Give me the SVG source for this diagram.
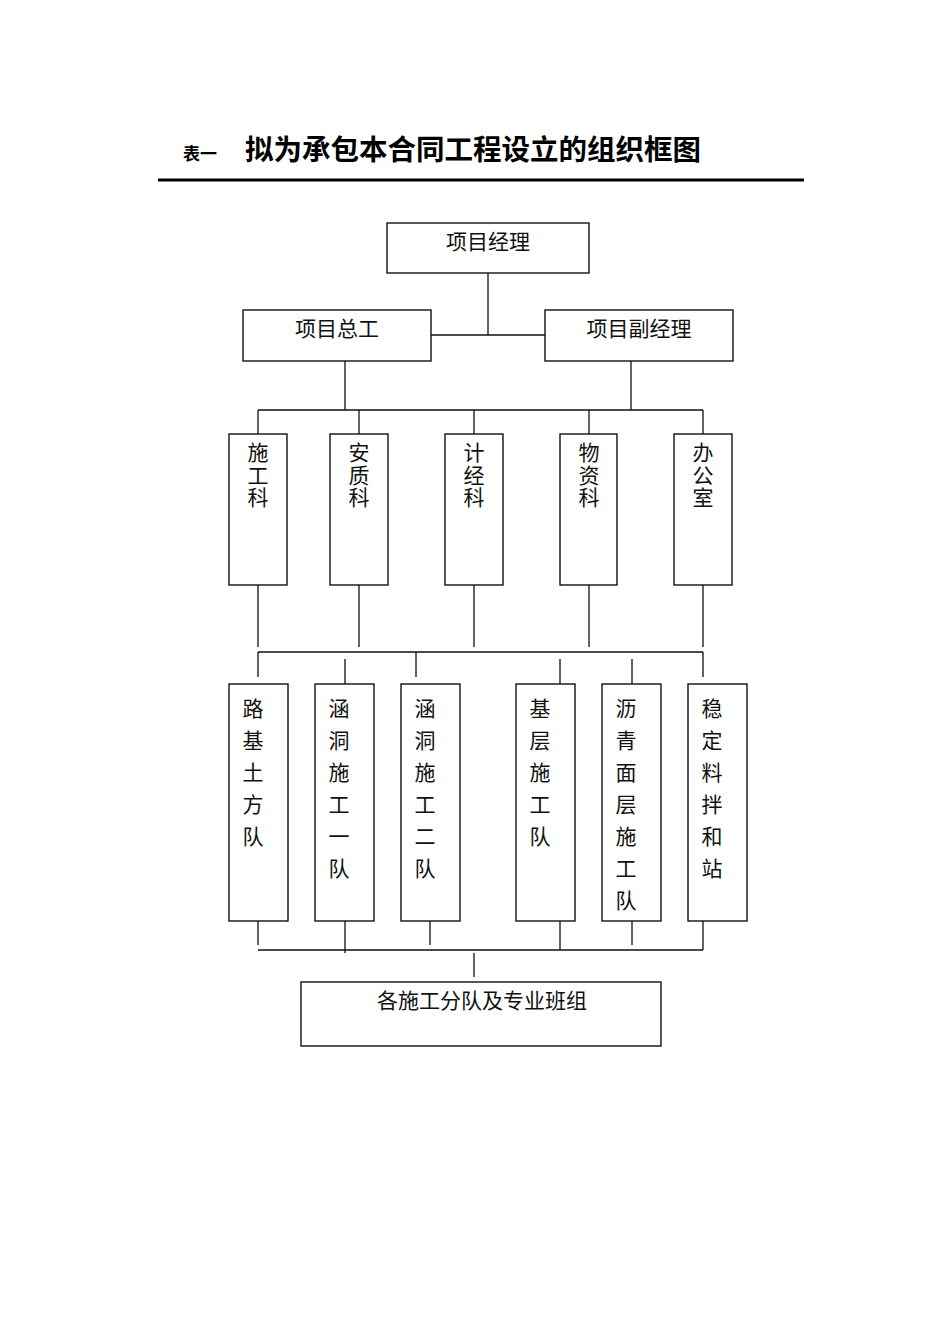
<svg xmlns="http://www.w3.org/2000/svg" width="950" height="1344" viewBox="0 0 950 1344">
<style>
.box{fill:#fff;stroke:#111;stroke-width:1.4}
.ln{stroke:#111;stroke-width:1.3;fill:none}
.t{font-family:"Noto Sans CJK SC","Noto Sans",sans-serif;font-size:21px;fill:#111;text-anchor:middle}
.v{font-family:"Noto Sans CJK SC","Noto Sans",sans-serif;font-size:21px;fill:#111;writing-mode:vertical-rl;text-orientation:upright;text-anchor:start}
.v1{letter-spacing:1.5px}
.v2{letter-spacing:11px}
.ttl{font-family:"Noto Sans CJK SC",sans-serif;font-weight:bold;fill:#000}
</style>
<rect width="950" height="1344" fill="#fff"/>
<g id="title">
<text class="ttl" x="183" y="160" font-size="17">表一</text>
<text class="ttl" x="245" y="160" font-size="28.5">拟为承包本合同工程设立的组织框图</text>
<rect x="158" y="178.5" width="646" height="3" fill="#000"/>
</g>
<g id="connectors">
<path class="ln" d="M488 273V335M431 335H545"/>
<path class="ln" d="M345 361V410M631 361V410M258 410H703M258 410V434M359 410V434M474 410V434M589 410V434M703 410V434"/>
<path class="ln" d="M258 585V647M359 585V647M474 585V647M589 585V647M703 585V647"/>
<path class="ln" d="M258 652H703M258 652V677M416 652V677M703 652V677M345 659V684M560 659V684M632 659V684"/>
<path class="ln" d="M258 921V945M345 915V953M430 921V945M560 921V950M632 921V945M703 921V950M258 950H703M474 953V977"/>
</g>
<g id="n-pm"><rect class="box" x="387" y="223" width="202" height="50"/><text class="t" x="488" y="249">项目经理</text></g>
<g id="n-chief"><rect class="box" x="243" y="310" width="188" height="51"/><text class="t" x="337" y="336">项目总工</text></g>
<g id="n-dpm"><rect class="box" x="545" y="310" width="188" height="51"/><text class="t" x="639" y="336">项目副经理</text></g>
<g id="n-sg"><rect class="box" x="229" y="434" width="58" height="151"/><text class="v v1" x="258" y="442">施工科</text></g>
<g id="n-az"><rect class="box" x="330" y="434" width="58" height="151"/><text class="v v1" x="359" y="442">安质科</text></g>
<g id="n-jj"><rect class="box" x="445" y="434" width="58" height="151"/><text class="v v1" x="474" y="442">计经科</text></g>
<g id="n-wz"><rect class="box" x="560" y="434" width="57" height="151"/><text class="v v1" x="589" y="442">物资科</text></g>
<g id="n-bgs"><rect class="box" x="674" y="434" width="58" height="151"/><text class="v v1" x="703" y="442">办公室</text></g>
<g id="n-lj"><rect class="box" x="229" y="684" width="59" height="237"/><text class="v v2" x="253" y="697.5">路基土方队</text></g>
<g id="n-hd1"><rect class="box" x="315" y="684" width="59" height="237"/><text class="v v2" x="339" y="697.5">涵洞施工一队</text></g>
<g id="n-hd2"><rect class="box" x="401" y="684" width="59" height="237"/><text class="v v2" x="425" y="697.5">涵洞施工二队</text></g>
<g id="n-jc"><rect class="box" x="516" y="684" width="59" height="237"/><text class="v v2" x="540" y="697.5">基层施工队</text></g>
<g id="n-lq"><rect class="box" x="602" y="684" width="59" height="237"/><text class="v v2" x="626" y="697.5">沥青面层施工队</text></g>
<g id="n-wd"><rect class="box" x="688" y="684" width="59" height="237"/><text class="v v2" x="712" y="697.5">稳定料拌和站</text></g>
<g id="n-teams"><rect class="box" x="301" y="982" width="360" height="64"/><text class="t" x="482" y="1008">各施工分队及专业班组</text></g>
</svg>
